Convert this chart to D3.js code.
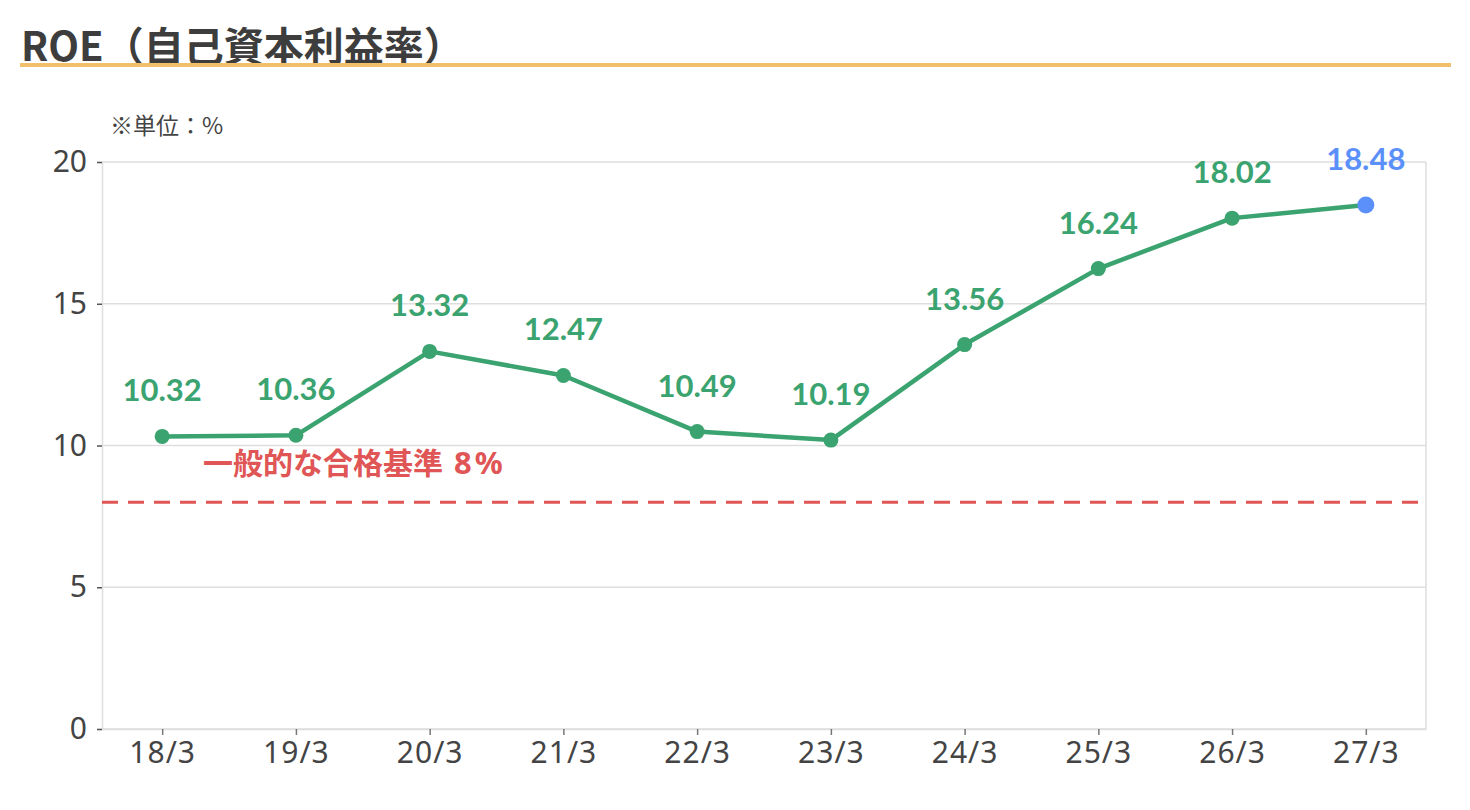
<!DOCTYPE html>
<html>
<head>
<meta charset="utf-8">
<script src="https://cdn.jsdelivr.net/npm/d3@7"></script>
<style>
  body { margin: 0; background: #fff; }
  svg { display: block; font-family: "Noto Sans CJK JP", "Noto Sans", sans-serif; }
</style>
</head>
<body>
<div id="chart"></div>
<script>
const periods = ["18/3", "19/3", "20/3", "21/3", "22/3", "23/3", "24/3", "25/3", "26/3", "27/3"];
const roe = [10.32, 10.36, 13.32, 12.47, 10.49, 10.19, 13.56, 16.24, 18.02, 18.48];
const yTicks = [0, 5, 10, 15, 20];
const benchmark = 8;
const benchmarkLabel = "一般的な合格基準";
const benchmarkValue = "8%";
const forecastIndex = 9; // 最後の点は予想値(青)

const width = 1470, height = 810;
const margin = {top: 162, right: 44, bottom: 81, left: 102};
const green = "#3aa36f", blue = "#5b8ff9", red = "#e05555";

const svg = d3.select("#chart").append("svg")
    .attr("width", width)
    .attr("height", height);

// title
svg.append("text")
    .attr("x", 21).attr("y", 61)
    .attr("font-size", 40).attr("font-weight", 700)
    .attr("fill", "#3d3d3d")
    .text("ROE（自己資本利益率）");
svg.append("rect")
    .attr("x", 20).attr("y", 63)
    .attr("width", 1431).attr("height", 4)
    .attr("fill", "#f2c06a");

svg.append("text")
    .attr("x", 110).attr("y", 134)
    .attr("font-size", 23).attr("fill", "#444")
    .text("※単位：%");

const x = d3.scalePoint()
    .domain(periods)
    .range([margin.left, width - margin.right])
    .padding(0.45);

const y = d3.scaleLinear()
    .domain([0, 20])
    .range([height - margin.bottom, margin.top]);

// grid
svg.append("g")
    .selectAll("line")
    .data(yTicks)
    .join("line")
    .attr("x1", margin.left).attr("x2", width - margin.right)
    .attr("y1", d => y(d)).attr("y2", d => y(d))
    .attr("stroke", "#dedede").attr("stroke-width", 1.5);

svg.append("line")
    .attr("x1", width - margin.right).attr("x2", width - margin.right)
    .attr("y1", margin.top).attr("y2", height - margin.bottom)
    .attr("stroke", "#dedede").attr("stroke-width", 1.5);

// y axis
const yAxis = svg.append("g")
    .attr("transform", `translate(${margin.left},0)`)
    .call(d3.axisLeft(y).tickValues(yTicks).tickSize(5).tickPadding(10));
yAxis.select(".domain").attr("stroke", "#dedede").attr("stroke-width", 1.5);
yAxis.selectAll(".tick line").attr("stroke", "#555").attr("stroke-width", 1.5);
yAxis.selectAll(".tick text")
    .attr("font-size", 30).attr("fill", "#444")
    .attr("font-family", "'Noto Sans', sans-serif");

// x axis
const xAxis = svg.append("g")
    .attr("transform", `translate(0,${height - margin.bottom})`)
    .call(d3.axisBottom(x).tickSize(6).tickPadding(7).tickSizeOuter(0));
xAxis.select(".domain").attr("stroke", "#dedede").attr("stroke-width", 1.5);
xAxis.selectAll(".tick line").attr("stroke", "#777").attr("stroke-width", 1.5);
xAxis.selectAll(".tick text")
    .attr("font-size", 30).attr("fill", "#444")
    .attr("letter-spacing", 1)
    .attr("font-family", "'Noto Sans', sans-serif");

// benchmark line
svg.append("line")
    .attr("x1", margin.left).attr("x2", width - margin.right)
    .attr("y1", y(benchmark)).attr("y2", y(benchmark))
    .attr("stroke", red).attr("stroke-width", 3)
    .attr("stroke-dasharray", "16,10");
const bm = svg.append("text")
    .attr("x", 203).attr("y", y(benchmark) - 28)
    .attr("font-size", 30).attr("font-weight", 700)
    .attr("fill", red);
bm.append("tspan").text(benchmarkLabel);
bm.append("tspan")
    .attr("dx", 11)
    .attr("font-size", 31)
    .attr("letter-spacing", 3)
    .attr("font-family", "'Noto Sans', sans-serif")
    .text(benchmarkValue);

// line
const line = d3.line()
    .x((d, i) => x(periods[i]))
    .y(d => y(d));

svg.append("path")
    .datum(roe)
    .attr("fill", "none")
    .attr("stroke", green)
    .attr("stroke-width", 4.5)
    .attr("stroke-linejoin", "round")
    .attr("d", line);

svg.append("g")
    .selectAll("circle")
    .data(roe)
    .join("circle")
    .attr("cx", (d, i) => x(periods[i]))
    .attr("cy", d => y(d))
    .attr("r", (d, i) => i === forecastIndex ? 8.5 : 7.5)
    .attr("fill", (d, i) => i === forecastIndex ? blue : green);

svg.append("g")
    .selectAll("text")
    .data(roe)
    .join("text")
    .attr("x", (d, i) => x(periods[i]))
    .attr("y", d => y(d) - 35)
    .attr("text-anchor", "middle")
    .attr("font-size", 31).attr("font-weight", 700)
    .attr("font-family", "Lato, 'Noto Sans', sans-serif")
    .attr("fill", (d, i) => i === forecastIndex ? blue : green)
    .text(d => d.toFixed(2));
</script>
</body>
</html>
